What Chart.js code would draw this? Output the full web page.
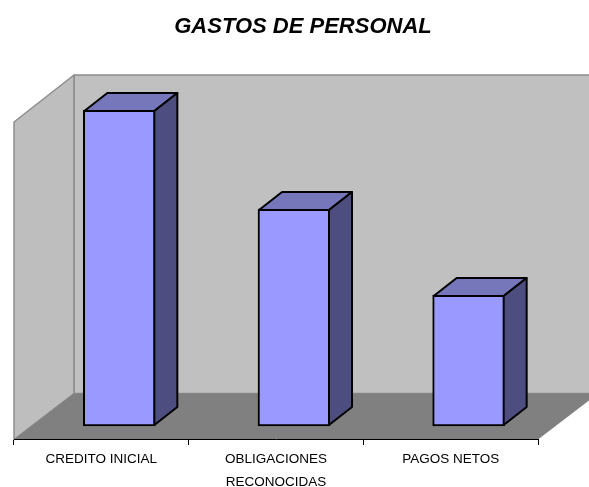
<!DOCTYPE html>
<html><head><meta charset="utf-8">
<style>html,body{margin:0;padding:0;background:#fff}canvas{display:block}</style>
<script src="https://cdn.jsdelivr.net/npm/chart.js@4"></script>
</head><body><canvas id="c" width="589" height="487"></canvas>
<script>
const categories = ["CREDITO INICIAL", ["OBLIGACIONES", "RECONOCIDAS"], "PAGOS NETOS"];
const seriesValues = [316, 217, 131];
const chartTitle = "GASTOS DE PERSONAL";

const room = {dx: 60, dy: 46};
const bar3d = {dx: 23, dy: 18, shift: 18};

function poly(ctx, pts, fill, stroke, lw){
  ctx.beginPath();
  pts.forEach((p,i)=> i ? ctx.lineTo(p[0],p[1]) : ctx.moveTo(p[0],p[1]));
  ctx.closePath();
  if(fill){ctx.fillStyle=fill;ctx.fill();}
  if(stroke){ctx.strokeStyle=stroke;ctx.lineWidth=lw;ctx.lineJoin='round';ctx.stroke();}
}
const scene = {
  id:'scene',
  beforeDraw(chart){
    const {ctx,chartArea:a,width}=chart;
    const L=a.left,B=a.bottom+0.5,T=a.top,R=a.right,bx=L+room.dx,by=B-room.dy;
    ctx.save();
    // back wall
    poly(ctx,[[bx,T],[width+3,T],[width+3,by],[bx,by]],'#C0C0C0','#8C8C8C',1.5);
    // left wall
    poly(ctx,[[L,T+room.dy+1],[bx,T],[bx,by],[L,B]],'#BEBEBE','#8C8C8C',1.5);
    // floor
    const cut=width-R;
    poly(ctx,[[L,B],[bx,by],[width,by],[width,B-cut*room.dy/room.dx],[R,B]],'#808080');
    ctx.restore();
  },
  beforeDatasetsDraw(chart){
    chart.ctx.save();
    chart.ctx.translate(bar3d.shift,0);
  },
  afterDatasetsDraw(chart){
    const ctx=chart.ctx;
    chart.getDatasetMeta(0).data.forEach(el=>{
      const l=el.x-el.width/2+1,r=el.x+el.width/2-1,t=el.y+1,b=el.base-1;
      const dx=bar3d.dx,dy=bar3d.dy;
      poly(ctx,[[l,t],[l+dx,t-dy],[r+dx,t-dy],[r,t]],'#7676BA','#000',2);
      poly(ctx,[[r,t],[r+dx,t-dy],[r+dx,b-dy],[r,b]],'#4D4D80','#000',2);
    });
    ctx.restore();
  }
};
new Chart(document.getElementById('c'),{
  type:'bar',
  data:{labels:categories,datasets:[{data:seriesValues,backgroundColor:'#9999FF',borderColor:'#000',borderWidth:2,barThickness:72,borderSkipped:false}]},
  plugins:[scene],
  options:{
    responsive:false,animation:false,events:[],
    layout:{padding:{left:14,right:-3,top:0,bottom:0}},
    plugins:{
      legend:{display:false},tooltip:{enabled:false},
      title:{display:true,text:chartTitle,color:'#000',
        font:{family:'"Liberation Sans",Arial,sans-serif',size:22,style:'italic',weight:'bold'},
        padding:{top:14,bottom:34.6}}
    },
    scales:{
      x:{
        grid:{drawOnChartArea:false,color:'#000',tickLength:6,lineWidth:1},
        border:{color:'#000'},
        ticks:{color:'#000',maxRotation:0,autoSkip:false,padding:3,
          font:{family:'"Liberation Sans",Arial,sans-serif',size:13.5,lineHeight:1.7}},
        afterFit(s){s.height=48;}
      },
      y:{
        position:'right',min:-13,max:351,
        grid:{display:false},border:{display:false},
        ticks:{display:false},
        afterFit(s){s.width=54;}
      }
    }
  }
});
</script></body></html>
